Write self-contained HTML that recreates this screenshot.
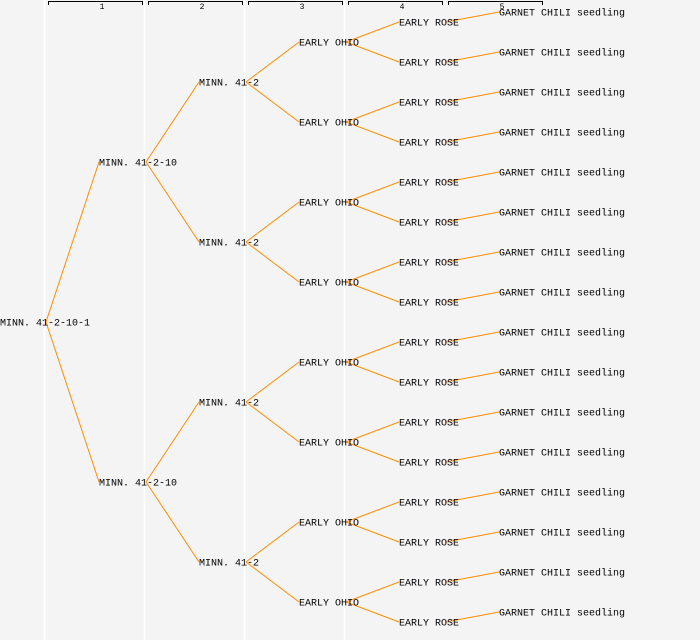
<!DOCTYPE html><html><head><style>html,body{margin:0;padding:0;background:#f4f4f4}svg{display:block}text{font-family:"Liberation Mono","DejaVu Sans Mono",monospace;font-size:10px;fill:#000}</style></head><body>
<svg width="700" height="640" xmlns="http://www.w3.org/2000/svg">
<rect width="700" height="640" fill="#f4f4f4"/>
<g stroke="#fff" stroke-width="1.5"><line x1="44.5" y1="0" x2="44.5" y2="640"/><line x1="144.5" y1="0" x2="144.5" y2="640"/><line x1="244.5" y1="0" x2="244.5" y2="640"/><line x1="344.5" y1="0" x2="344.5" y2="640"/></g>
<g stroke="#000" fill="none" stroke-width="1">
<path d="M48.5 5V1.5H142.5V5"/><path d="M148.5 5V1.5H242.5V5"/><path d="M248.5 5V1.5H342.5V5"/><path d="M348.5 5V1.5H442.5V5"/><path d="M448.5 5V1.5H542.5V5"/></g>
<g text-anchor="middle"><text x="102" y="9" style="font-size:8px">1</text><text x="202" y="9" style="font-size:8px">2</text><text x="302" y="9" style="font-size:8px">3</text><text x="402" y="9" style="font-size:8px">4</text><text x="502" y="9" style="font-size:8px">5</text></g>
<g stroke="#ff8c00" stroke-width="1" fill="none">
<path d="M46 322L99 162M46 322L99 482"/>
<path d="M146 162L199 82M146 162L199 242M146 482L199 402M146 482L199 562"/>
<path d="M246 82L299 42M246 82L299 122M246 242L299 202M246 242L299 282M246 402L299 362M246 402L299 442M246 562L299 522M246 562L299 602"/>
<path d="M346 42L399 22M346 42L399 62M346 122L399 102M346 122L399 142M346 202L399 182M346 202L399 222M346 282L399 262M346 282L399 302M346 362L399 342M346 362L399 382M346 442L399 422M346 442L399 462M346 522L399 502M346 522L399 542M346 602L399 582M346 602L399 622"/>
<path d="M446 22L499 12M446 62L499 52M446 102L499 92M446 142L499 132M446 182L499 172M446 222L499 212M446 262L499 252M446 302L499 292M446 342L499 332M446 382L499 372M446 422L499 412M446 462L499 452M446 502L499 492M446 542L499 532M446 582L499 572M446 622L499 612"/>
</g>
<g>
<text x="0" y="325.5">MINN. 41-2-10-1</text>
<text x="99" y="165.5">MINN. 41-2-10</text><text x="99" y="485.5">MINN. 41-2-10</text>
<text x="199" y="85.5">MINN. 41-2</text><text x="199" y="245.5">MINN. 41-2</text><text x="199" y="405.5">MINN. 41-2</text><text x="199" y="565.5">MINN. 41-2</text>
<text x="299" y="45.5">EARLY OHIO</text><text x="299" y="125.5">EARLY OHIO</text><text x="299" y="205.5">EARLY OHIO</text><text x="299" y="285.5">EARLY OHIO</text><text x="299" y="365.5">EARLY OHIO</text><text x="299" y="445.5">EARLY OHIO</text><text x="299" y="525.5">EARLY OHIO</text><text x="299" y="605.5">EARLY OHIO</text>
<text x="399" y="25.5">EARLY ROSE</text><text x="399" y="65.5">EARLY ROSE</text><text x="399" y="105.5">EARLY ROSE</text><text x="399" y="145.5">EARLY ROSE</text><text x="399" y="185.5">EARLY ROSE</text><text x="399" y="225.5">EARLY ROSE</text><text x="399" y="265.5">EARLY ROSE</text><text x="399" y="305.5">EARLY ROSE</text><text x="399" y="345.5">EARLY ROSE</text><text x="399" y="385.5">EARLY ROSE</text><text x="399" y="425.5">EARLY ROSE</text><text x="399" y="465.5">EARLY ROSE</text><text x="399" y="505.5">EARLY ROSE</text><text x="399" y="545.5">EARLY ROSE</text><text x="399" y="585.5">EARLY ROSE</text><text x="399" y="625.5">EARLY ROSE</text>
<text x="499" y="15.5">GARNET CHILI seedling</text><text x="499" y="55.5">GARNET CHILI seedling</text><text x="499" y="95.5">GARNET CHILI seedling</text><text x="499" y="135.5">GARNET CHILI seedling</text><text x="499" y="175.5">GARNET CHILI seedling</text><text x="499" y="215.5">GARNET CHILI seedling</text><text x="499" y="255.5">GARNET CHILI seedling</text><text x="499" y="295.5">GARNET CHILI seedling</text><text x="499" y="335.5">GARNET CHILI seedling</text><text x="499" y="375.5">GARNET CHILI seedling</text><text x="499" y="415.5">GARNET CHILI seedling</text><text x="499" y="455.5">GARNET CHILI seedling</text><text x="499" y="495.5">GARNET CHILI seedling</text><text x="499" y="535.5">GARNET CHILI seedling</text><text x="499" y="575.5">GARNET CHILI seedling</text><text x="499" y="615.5">GARNET CHILI seedling</text>
</g>
</svg></body></html>
